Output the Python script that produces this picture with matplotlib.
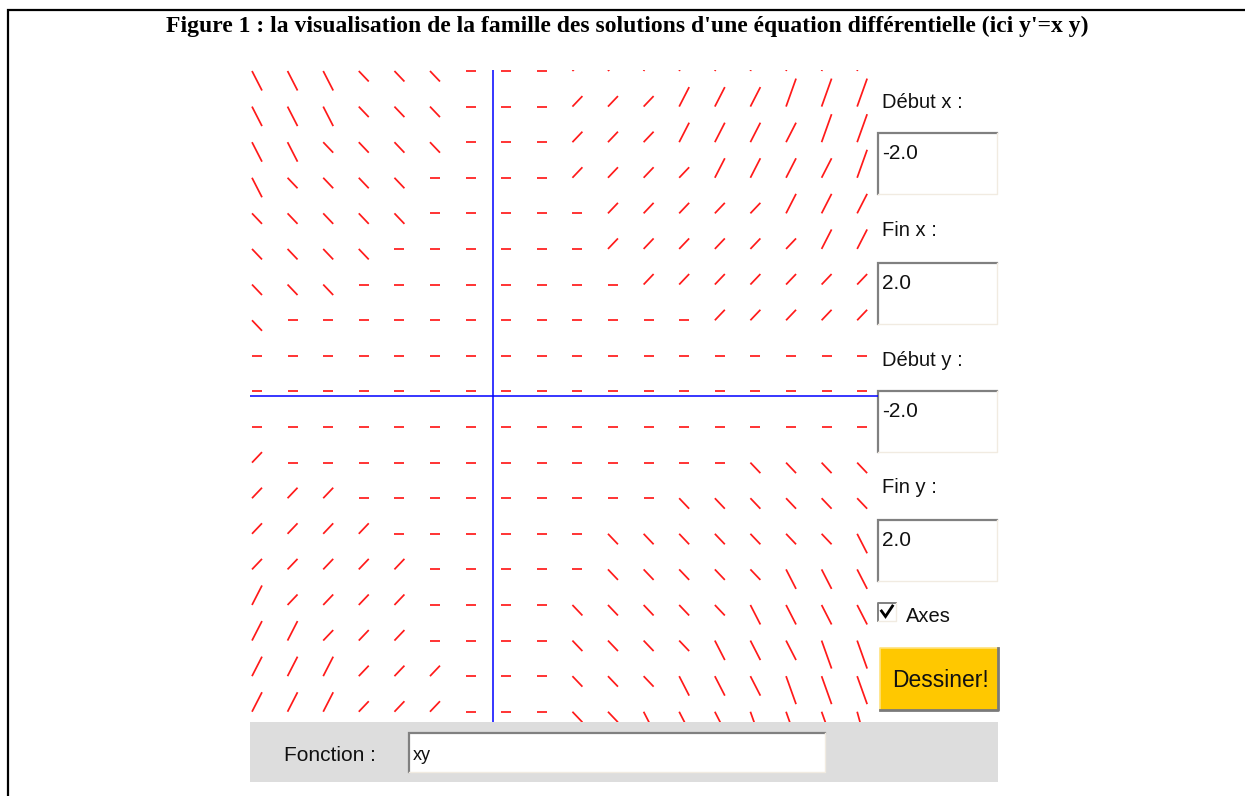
import numpy as np
from matplotlib import pyplot as plt
from matplotlib.collections import LineCollection
from matplotlib.patches import Rectangle

W, H = 1245, 796

# grid points of the slope field, in the applet's x / y units
x_cols = [-2.0, -1.705, -1.409, -1.114, -0.818, -0.523, -0.227, 0.068, 0.363,
          0.659, 0.954, 1.25, 1.545, 1.841, 2.136, 2.432, 2.727, 3.022]
y_rows = [2.0, 1.781, 1.562, 1.343, 1.124, 0.905, 0.686, 0.466, 0.247, 0.028,
          -0.191, -0.41, -0.629, -0.848, -1.067, -1.286, -1.505, -1.724, -1.943]

# slope class drawn at each grid point (rows from top to bottom)
slopes = [
    [-2, -2, -2, -1, -1, -1, 0, 0, 0, 1, 1, 2, 2, 2, 3, 3, 3, 4],
    [-2, -2, -2, -1, -1, -1, 0, 0, 0, 1, 1, 1, 2, 2, 2, 3, 3, 3],
    [-2, -2, -1, -1, -1, -1, 0, 0, 0, 1, 1, 1, 2, 2, 2, 2, 3, 3],
    [-2, -1, -1, -1, -1, 0, 0, 0, 0, 1, 1, 1, 1, 2, 2, 2, 2, 3],
    [-1, -1, -1, -1, -1, 0, 0, 0, 0, 0, 1, 1, 1, 1, 1, 2, 2, 2],
    [-1, -1, -1, -1, 0, 0, 0, 0, 0, 0, 1, 1, 1, 1, 1, 1, 2, 2],
    [-1, -1, -1, 0, 0, 0, 0, 0, 0, 0, 0, 1, 1, 1, 1, 1, 1, 1],
    [-1, 0, 0, 0, 0, 0, 0, 0, 0, 0, 0, 0, 0, 1, 1, 1, 1, 1],
    [0, 0, 0, 0, 0, 0, 0, 0, 0, 0, 0, 0, 0, 0, 0, 0, 0, 0],
    [0, 0, 0, 0, 0, 0, 0, 0, 0, 0, 0, 0, 0, 0, 0, 0, 0, 0],
    [0, 0, 0, 0, 0, 0, 0, 0, 0, 0, 0, 0, 0, 0, 0, 0, 0, 0],
    [1, 0, 0, 0, 0, 0, 0, 0, 0, 0, 0, 0, 0, 0, -1, -1, -1, -1],
    [1, 1, 1, 0, 0, 0, 0, 0, 0, 0, 0, 0, -1, -1, -1, -1, -1, -1],
    [1, 1, 1, 1, 0, 0, 0, 0, 0, 0, -1, -1, -1, -1, -1, -1, -1, -2],
    [1, 1, 1, 1, 1, 0, 0, 0, 0, 0, -1, -1, -1, -1, -1, -2, -2, -2],
    [2, 1, 1, 1, 1, 0, 0, 0, 0, -1, -1, -1, -1, -1, -2, -2, -2, -2],
    [2, 2, 1, 1, 1, 0, 0, 0, 0, -1, -1, -1, -1, -2, -2, -2, -3, -3],
    [2, 2, 2, 1, 1, 1, 0, 0, 0, -1, -1, -1, -2, -2, -2, -3, -3, -3],
    [2, 2, 2, 1, 1, 1, 0, 0, 0, -1, -1, -2, -2, -2, -3, -3, -3, -4],
]

fields = [("Début x :", "-2.0"), ("Fin x :", "2.0"),
          ("Début y :", "-2.0"), ("Fin y :", "2.0")]
function_text = "xy"
title = "Figure 1 : la visualisation de la famille des solutions d'une équation différentielle (ici y'=x y)"

# canvas of the applet, in screen pixels
CX0, CX1, CY0, CY1 = 250, 878, 70, 722
X_ORIGIN, Y_ORIGIN = 493, 396
PX_X, PX_Y = 120.5, 162.5       # pixels per unit
SEG_DX = 10                      # segment width in px
RISE = {0: 0, 1: 10.5, 2: 19.5, 3: 28, 4: 36}

fig = plt.figure(figsize=(W / 100, H / 100), dpi=100)
ui = fig.add_axes([0, 0, 1, 1], zorder=0)
ui.set_xlim(0, W)
ui.set_ylim(H, 0)
ui.axis("off")

# page frame
ui.plot([8, 8, W], [H, 10, 10], color="black", lw=1.6, solid_joinstyle="miter")
ui.text(627, 32, title, ha="center", va="baseline", fontsize=17,
        fontweight="bold", family="Liberation Serif", color="black")

# slope field
ax = fig.add_axes([CX0 / W, 1 - CY1 / H, (CX1 - CX0) / W, (CY1 - CY0) / H], zorder=1)
ax.set_xlim((CX0 - X_ORIGIN) / PX_X, (CX1 - X_ORIGIN) / PX_X)
ax.set_ylim((Y_ORIGIN - CY1) / PX_Y, (Y_ORIGIN - CY0) / PX_Y)
ax.axis("off")

segs = []
for r, y in enumerate(y_rows):
    for c, x in enumerate(x_cols):
        m = slopes[r][c]
        dy = np.sign(m) * RISE[abs(m)] / PX_Y
        segs.append([(x, y), (x + SEG_DX / PX_X, y + dy)])
ax.add_collection(LineCollection(segs, colors="#ff1a1a", linewidths=1.25,
                                 capstyle="butt"))
ax.axhline(0, color="#0000ff", lw=1.1)
ax.axvline(0, color="#0000ff", lw=1.1)


def text_field(x0, y0, x1, y1, value, size=15, dy=26):
    ui.add_patch(Rectangle((x0, y0), x1 - x0, y1 - y0, facecolor="white",
                           edgecolor="none"))
    ui.plot([x0, x0, x1], [y1, y0, y0], color="#808080", lw=1.6,
            solid_joinstyle="miter")
    ui.plot([x0, x1, x1], [y1, y1, y0], color="#f1ebe1", lw=1.0)
    ui.text(x0 + 4, y0 + dy, value, fontsize=size, va="baseline",
            family="Liberation Sans", color="#111111")


label_base = [108, 236, 366, 493]
box_top = [133, 263, 391, 520]
for (lab, val), lb, bt in zip(fields, label_base, box_top):
    ui.text(882, lb, lab, fontsize=14.5, va="baseline", family="Liberation Sans",
            color="#111111")
    text_field(878, bt, 997, bt + 61, val)

# checkbox "Axes"
ui.add_patch(Rectangle((878, 603), 18, 18, facecolor="white", edgecolor="none"))
ui.plot([878, 878, 896], [621, 603, 603], color="#808080", lw=1.4)
ui.plot([878, 896, 896], [621, 621, 603], color="#f1ebe1", lw=1.0)
ui.plot([881.5, 885.5, 892.5], [611, 616.5, 606], color="black", lw=2.0,
        solid_joinstyle="miter")
ui.text(906, 622, "Axes", fontsize=14.5, va="baseline", family="Liberation Sans",
        color="#111111")

# button
ui.add_patch(Rectangle((880, 648), 118, 62, facecolor="#ffc800", edgecolor="none"))
ui.plot([880, 880, 998], [710, 648, 648], color="#ffe27a", lw=1.2)
ui.plot([880, 998, 998], [710, 710, 648], color="#7a7a7a", lw=2.0)
ui.text(940, 687, "Dessiner!", fontsize=16.5, ha="center", va="baseline",
        family="Liberation Sans", color="#111111")

# bottom panel
ui.add_patch(Rectangle((250, 722), 748, 60, facecolor="#dddddd", edgecolor="none"))
ui.text(284, 761, "Fonction :", fontsize=15, va="baseline",
        family="Liberation Sans", color="#111111")
text_field(409, 733, 825, 772, function_text, size=13, dy=27)

fig.savefig("out.png", dpi=100)
